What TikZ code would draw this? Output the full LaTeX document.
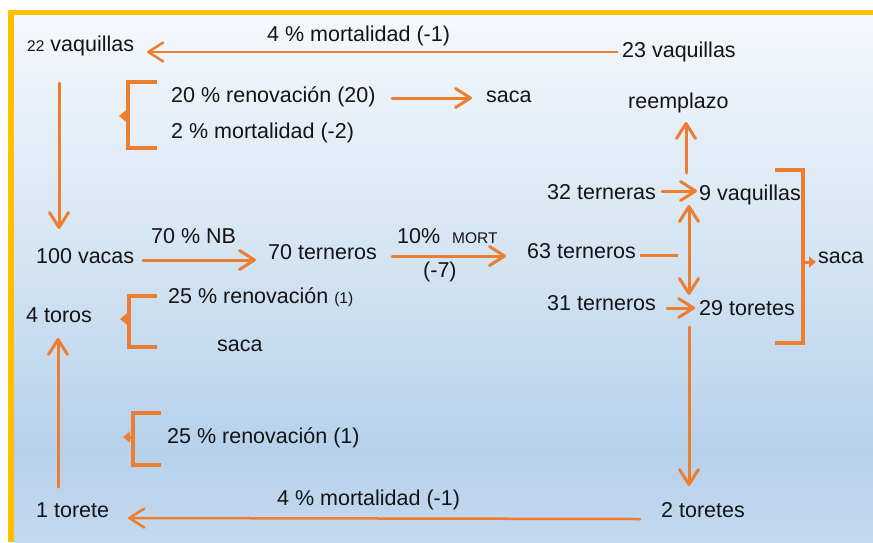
\documentclass[tikz,border=0pt]{standalone}
\usepackage{fontspec}
\setmainfont{Liberation Sans}
\usetikzlibrary{arrows.meta}
\definecolor{org}{HTML}{ED7D31}
\definecolor{ylw}{HTML}{FFC000}
\definecolor{txt}{HTML}{141414}
\definecolor{bgA}{HTML}{F5F8FC}
\definecolor{bgB}{HTML}{D5E5F3}
\definecolor{bgC}{HTML}{B6D1EB}
\definecolor{bgD}{HTML}{C4D9EE}
\pgfdeclareverticalshading{bgsh}{100bp}{color(0bp)=(bgD); color(25bp)=(bgD); color(33.7bp)=(bgC); color(52.7bp)=(bgB); color(75bp)=(bgA); color(100bp)=(bgA)}
\newcommand{\smf}{\fontsize{15.5}{18}\selectfont}
\tikzset{
  lbl/.style={inner sep=0pt, anchor=mid west, yshift=-3pt, font=\fontsize{21.5}{25}\selectfont, text=txt},
  arr/.style={draw=org, line width=3pt, line cap=round, -{Straight Barb[length=15pt,width=19pt,round]}},
  darr/.style={draw=org, line width=3pt, line cap=round, {Straight Barb[length=15pt,width=19pt,round]}-{Straight Barb[length=15pt,width=19pt,round]}},
  brk/.style={draw=org, line width=3.5pt},
  brkarr/.style={draw=org, line width=3pt, -{Triangle[length=7pt,width=11pt]}},
  plain/.style={draw=org, line width=3pt}
}
\begin{document}
\begin{tikzpicture}[x=1pt,y=-1pt]
\useasboundingbox (0,0) rectangle (873,542);
\fill[white] (0,0) rectangle (873,542);
\shade[shading=bgsh] (14,15) rectangle (873,542);
\fill[ylw] (8,10) rectangle (873,15);
\fill[ylw] (8,10) rectangle (14,542);

% texts
\node[lbl] (v22) at (27,46) {{\smf 22} vaquillas};
\node[lbl] (mortA) at (267,36) {4 \% mortalidad (-1)};
\node[lbl] (v23) at (622,52) {23 vaquillas};
\node[lbl] (renA) at (171,97) {20 \% renovación (20)};
\node[lbl] (sacaA) at (486,97) {saca};
\node[lbl] (mortB) at (171,133) {2 \% mortalidad (-2)};
\node[lbl] (reemp) at (628,103) {reemplazo};
\node[lbl] (t32) at (547,194) {32 terneras};
\node[lbl] (v9) at (699,195) {9 vaquillas};
\node[lbl] (nb) at (151,238) {70 \% NB};
\node[lbl] (mortlbl) at (397,238) {10\%\ \ {\smf MORT}};
\node[lbl] (vacas) at (36,258) {100 vacas};
\node[lbl] (t70) at (268,254) {70 terneros};
\node[lbl] (t63) at (527,253) {63 terneros};
\node[lbl] (m7) at (423,272) {(-7)};
\node[lbl] (sacaC) at (818,258) {saca};
\node[lbl] (renB) at (168,298) {25 \% renovación {\smf (1)}};
\node[lbl] (t31) at (547,305) {31 terneros};
\node[lbl] (t29) at (699,310) {29 toretes};
\node[lbl] (toros) at (26,317) {4 toros};
\node[lbl] (sacaB) at (217,346) {saca};
\node[lbl] (renC) at (167,438) {25 \% renovación (1)};
\node[lbl] (mortC) at (277,500) {4 \% mortalidad (-1)};
\node[lbl] (torete) at (36,512) {1 torete};
\node[lbl] (toretes) at (661,512) {2 toretes};

% connector end points
\coordinate (aTopS) at (617,52);  \coordinate (aTopE) at (147,52);
\coordinate (aDnS) at (59,83);    \coordinate (aDnE) at (59,229);
\coordinate (aSacS) at (392,98);  \coordinate (aSacE) at (472,98);
\coordinate (aUpS) at (686,173);  \coordinate (aUpE) at (686,122);
\coordinate (a32S) at (662,191);  \coordinate (a32E) at (697,191);
\coordinate (dTop) at (689,205);  \coordinate (dBot) at (689,295);
\coordinate (l63S) at (640,255);  \coordinate (l63E) at (678,255);
\coordinate (a31S) at (667,308);  \coordinate (a31E) at (695,308);
\coordinate (aD2S) at (689,327);  \coordinate (aD2E) at (689,486);
\coordinate (aBotS) at (640,519); \coordinate (aBotE) at (128,518);
\coordinate (aU2S) at (58,487);   \coordinate (aU2E) at (58,338);
\coordinate (aNbS) at (143,260);  \coordinate (aNbE) at (256,260);
\coordinate (aMoS) at (392,256);  \coordinate (aMoE) at (506,256);

\draw[arr, line width=2.5pt] (aTopS) -- (aTopE);
\draw[arr] (aDnS) -- (aDnE);
\draw[arr] (aSacS) -- (aSacE);
\draw[arr] (aUpS) -- (aUpE);
\draw[arr] (a32S) -- (a32E);
\draw[darr] (dTop) -- (dBot);
\draw[plain] (l63S) -- (l63E);
\draw[arr] (a31S) -- (a31E);
\draw[arr] (aD2S) -- (aD2E);
\draw[arr, line width=2.5pt] (aBotS) -- (aBotE);
\draw[arr] (aU2S) -- (aU2E);
\draw[arr] (aNbS) -- (aNbE);
\draw[arr] (aMoS) -- (aMoE);

% brackets
\draw[brk] (157,82) -- (128,82) -- (128,148) -- (157,148);
\draw[brkarr] (128,116) -- (119,116);
\draw[brk] (157,296) -- (129,296) -- (129,347) -- (157,347);
\draw[brkarr] (129,319) -- (120,319);
\draw[brk] (161,413) -- (133,413) -- (133,465) -- (161,465);
\draw[brkarr] (133,437) -- (123,437);
\draw[brk] (775,170) -- (803,170) -- (803,343) -- (775,343);
\draw[brkarr] (803,262) -- (816,262);
\end{tikzpicture}
\end{document}
